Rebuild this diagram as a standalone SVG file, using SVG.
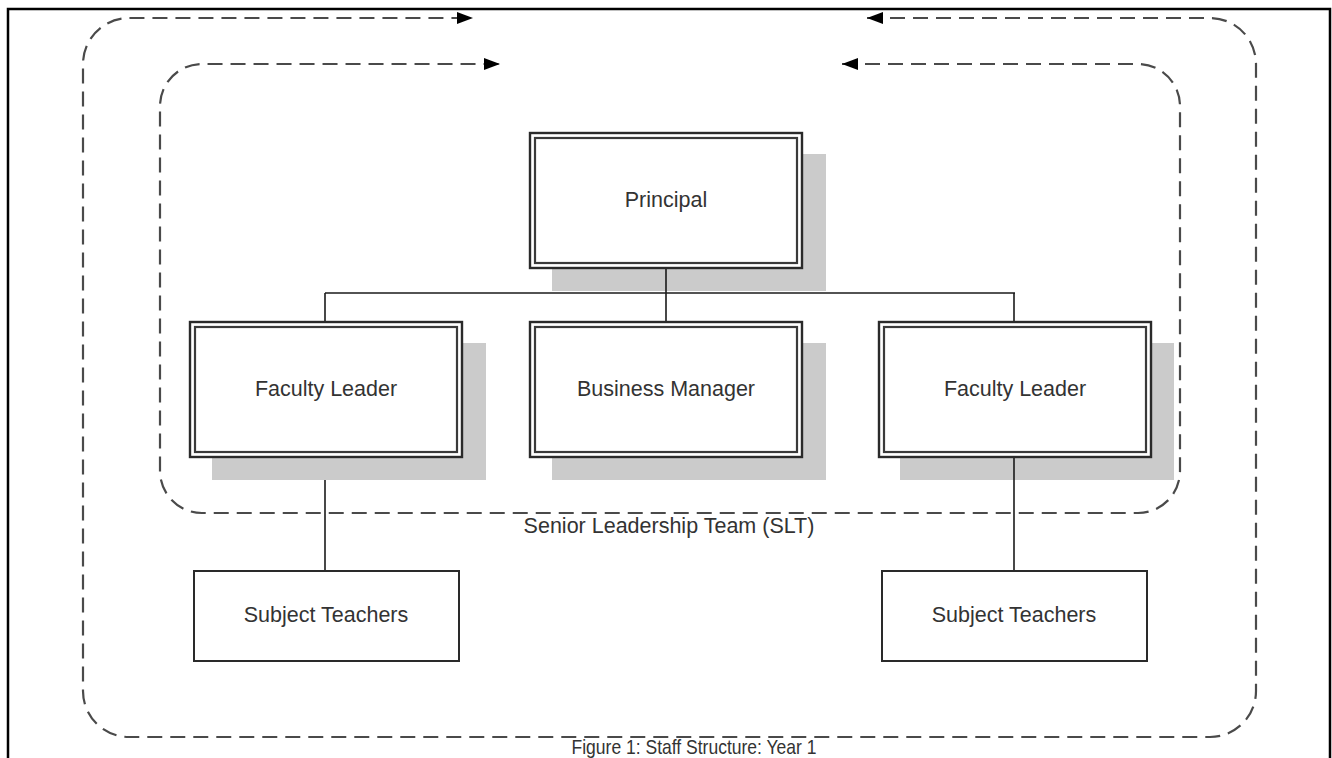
<svg xmlns="http://www.w3.org/2000/svg" width="1332" height="758" viewBox="0 0 1332 758">
  <style>
    .frame { fill: none; stroke: #000; stroke-width: 2.5; }
    .loop { fill: none; stroke: #4a4a4a; stroke-width: 2.2; stroke-dasharray: 15 8; }
    .shadow { fill: #cbcbcb; stroke: none; }
    .dbl-out { fill: #fff; stroke: #2a2a2a; stroke-width: 2.4; }
    .dbl-in { fill: none; stroke: #3a3a3a; stroke-width: 2.2; }
    .box { fill: #fff; stroke: #2a2a2a; stroke-width: 2; }
    .link { fill: none; stroke: #1a1a1a; stroke-width: 1.6; }
    .label { font-family: "Liberation Sans", Arial, sans-serif; font-size: 21.5px; fill: #333; text-anchor: middle; }
  </style>
  <defs>
    <marker id="arrow" markerUnits="userSpaceOnUse" markerWidth="17" markerHeight="15" refX="16" refY="7.5" orient="auto-start-reverse">
      <path d="M0,1.5 L16,7.5 L0,13.5 Z" fill="#000"/>
    </marker>
  </defs>

  <rect width="1332" height="758" fill="#fff"/>

  <!-- page frame -->
  <path class="frame" d="M8,758 V9 H1330 V758"/>

  <!-- staff loop (outer) and SLT loop (inner) -->
  <g id="loops">
    <path class="loop" marker-start="url(#arrow)" marker-end="url(#arrow)"
          d="M867,18 H1210 A46,46 0 0 1 1256,64 V691 A46,46 0 0 1 1210,737 H129 A46,46 0 0 1 83,691 V64 A46,46 0 0 1 129,18 H473"/>
    <path class="loop" marker-start="url(#arrow)" marker-end="url(#arrow)"
          d="M842,64 H1138 A42,42 0 0 1 1180,106 V471 A42,42 0 0 1 1138,513 H202 A42,42 0 0 1 160,471 V106 A42,42 0 0 1 202,64 H500"/>
    <text class="label" x="669" y="533">Senior Leadership Team (SLT)</text>
  </g>

  <!-- drop shadows of the SLT boxes -->
  <g id="shadows">
    <rect class="shadow" x="552" y="154" width="274" height="137"/>
    <rect class="shadow" x="212" y="343" width="274" height="137"/>
    <rect class="shadow" x="552" y="343" width="274" height="137"/>
    <rect class="shadow" x="900" y="343" width="274" height="137"/>
  </g>

  <!-- reporting lines -->
  <g id="connectors">
    <path class="link" d="M666,269 V293"/>
    <path class="link" d="M325,293 H1015"/>
    <path class="link" d="M325,293 V321"/>
    <path class="link" d="M666,293 V321"/>
    <path class="link" d="M1014,293 V321"/>
    <path class="link" d="M325,480 V571"/>
    <path class="link" d="M1014,457 V571"/>
  </g>

  <g id="principal">
    <rect class="dbl-out" x="530" y="133" width="272" height="135"/>
    <rect class="dbl-in" x="535" y="138" width="262" height="125"/>
    <text class="label" x="666" y="207">Principal</text>
  </g>

  <g id="faculty-leader-1">
    <rect class="dbl-out" x="190" y="322" width="272" height="135"/>
    <rect class="dbl-in" x="195" y="327" width="262" height="125"/>
    <text class="label" x="326" y="396">Faculty Leader</text>
  </g>

  <g id="business-manager">
    <rect class="dbl-out" x="530" y="322" width="272" height="135"/>
    <rect class="dbl-in" x="535" y="327" width="262" height="125"/>
    <text class="label" x="666" y="396">Business Manager</text>
  </g>

  <g id="faculty-leader-2">
    <rect class="dbl-out" x="879" y="322" width="272" height="135"/>
    <rect class="dbl-in" x="884" y="327" width="262" height="125"/>
    <text class="label" x="1015" y="396">Faculty Leader</text>
  </g>

  <g id="subject-teachers-1">
    <rect class="box" x="194" y="571" width="265" height="90"/>
    <text class="label" x="326" y="622">Subject Teachers</text>
  </g>

  <g id="subject-teachers-2">
    <rect class="box" x="882" y="571" width="265" height="90"/>
    <text class="label" x="1014" y="622">Subject Teachers</text>
  </g>

  <text class="label" x="694" y="754" textLength="245" lengthAdjust="spacingAndGlyphs" style="font-size:21px">Figure 1: Staff Structure: Year 1</text>
</svg>
